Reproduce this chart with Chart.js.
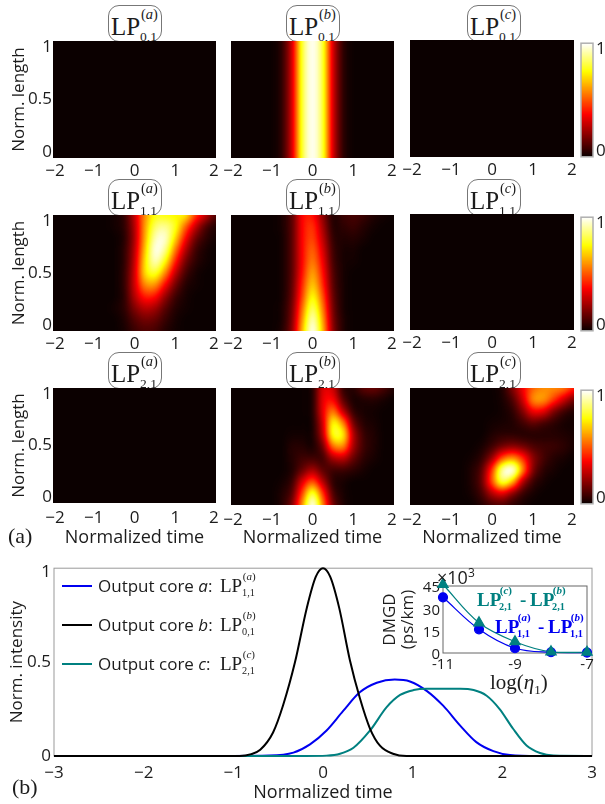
<!DOCTYPE html>
<html>
<head>
<meta charset="utf-8">
<title>LP modes</title>
<script src="https://cdn.jsdelivr.net/npm/chart.js@4/dist/chart.umd.min.js"></script>
<style>
  html, body { margin: 0; padding: 0; background: #fff; }
  #page { position: relative; width: 605px; height: 804px; overflow: hidden; color: #1c1c1c; font-family: "Open Sans", sans-serif; }
  #page canvas, .abs { position: absolute; }
  .abs { white-space: nowrap; line-height: 1; }
  .box { border: 1px solid #777; border-radius: 11px; background: #fff; box-sizing: border-box; }
  .lp { position: relative; display: inline-block; width: 2.05em; height: 1em; font-family: "Liberation Serif", serif; line-height: 1; }
  .lp .sup { position: absolute; left: 2.07em; top: -.5em; font-size: .58em; }
  .lp .sub { position: absolute; left: 2.15em; top: 1.2em; font-size: .54em; }
</style>
</head>
<body>
<div id="page"></div>
<script>
// ==========================================
// data
// ==========================================
// heat maps: intensity in %, rows from length 1 (top) down to 0, columns are heatTimes
const heatTimes = [-2, -1.75, -1.5, -1.25, -1, -0.75, -0.5, -0.25, 0, 0.25, 0.5, 0.75, 1, 1.25, 1.5, 1.75, 2];
const heatLengths = [1, 0.9, 0.8, 0.7, 0.6, 0.5, 0.4, 0.3, 0.2, 0.1, 0];

const darkRow = [0, 0, 0, 0, 0, 0, 0, 0, 0, 0, 0, 0, 0, 0, 0, 0, 0];
const gridDark = [darkRow, darkRow, darkRow, darkRow, darkRow, darkRow, darkRow, darkRow, darkRow, darkRow, darkRow];

const pulseRow = [0, 0, 0, 0, 0, 5, 31, 81, 100, 81, 31, 5, 0, 0, 0, 0, 0];
const gridB01 = [pulseRow, pulseRow, pulseRow, pulseRow, pulseRow, pulseRow, pulseRow, pulseRow, pulseRow, pulseRow, pulseRow];

const gridA11 = [
  [0, 0, 0, 0, 0, 0, 1, 6, 28, 58, 76, 76, 74, 72, 46, 28, 10],
  [0, 0, 0, 0, 0, 0, 1, 5, 25, 60, 85, 90, 78, 52, 28, 10, 3],
  [0, 0, 0, 0, 0, 0, 0, 4, 24, 62, 93, 96, 70, 38, 15, 5, 1],
  [0, 0, 0, 0, 0, 0, 0, 5, 26, 66, 98, 90, 56, 26, 8, 2, 0],
  [0, 0, 0, 0, 0, 0, 0, 5, 28, 70, 94, 76, 42, 16, 5, 1, 0],
  [0, 0, 0, 0, 0, 0, 0, 6, 30, 70, 80, 58, 28, 9, 2, 0, 0],
  [0, 0, 0, 0, 0, 0, 0, 6, 30, 58, 60, 38, 16, 4, 1, 0, 0],
  [0, 0, 0, 0, 0, 0, 0, 5, 26, 42, 40, 22, 8, 2, 0, 0, 0],
  [0, 0, 0, 0, 0, 0, 1, 5, 18, 27, 24, 12, 4, 1, 0, 0, 0],
  [0, 0, 0, 0, 0, 0, 0, 3, 11, 16, 14, 7, 2, 0, 0, 0, 0],
  [0, 0, 0, 0, 0, 0, 0, 2, 7, 10, 9, 4, 1, 0, 0, 0, 0]
];
const gridB11 = [
  [0, 0, 0, 0, 0, 2, 12, 38, 40, 20, 3, 7, 9, 7, 3, 1, 0],
  [0, 0, 0, 0, 0, 2, 12, 38, 45, 24, 4, 5, 7, 4, 1, 0, 0],
  [0, 0, 0, 0, 0, 1, 12, 38, 48, 28, 6, 3, 4, 2, 0, 0, 0],
  [0, 0, 0, 0, 0, 1, 12, 38, 52, 32, 8, 2, 2, 0, 0, 0, 0],
  [0, 0, 0, 0, 0, 1, 12, 38, 56, 36, 9, 2, 1, 0, 0, 0, 0],
  [0, 0, 0, 0, 0, 1, 12, 40, 62, 40, 11, 2, 0, 0, 0, 0, 0],
  [0, 0, 0, 0, 0, 1, 13, 44, 68, 44, 12, 2, 0, 0, 0, 0, 0],
  [0, 0, 0, 0, 0, 1, 14, 48, 76, 50, 14, 2, 0, 0, 0, 0, 0],
  [0, 0, 0, 0, 0, 2, 16, 54, 85, 56, 16, 2, 0, 0, 0, 0, 0],
  [0, 0, 0, 0, 0, 2, 18, 60, 94, 62, 18, 3, 0, 0, 0, 0, 0],
  [0, 0, 0, 0, 0, 3, 20, 65, 100, 66, 20, 3, 0, 0, 0, 0, 0]
];
const gridB21 = [
  [0, 0, 0, 0, 0, 0, 0, 0, 3, 32, 30, 6, 4, 12, 14, 9, 3],
  [0, 0, 0, 0, 0, 0, 0, 0, 3, 34, 38, 12, 2, 3, 4, 2, 0],
  [0, 0, 0, 0, 0, 0, 0, 0, 3, 34, 56, 28, 6, 2, 1, 0, 0],
  [0, 0, 0, 0, 0, 0, 0, 0, 2, 30, 76, 58, 16, 4, 2, 0, 0],
  [0, 0, 0, 0, 0, 0, 1, 1, 2, 26, 78, 74, 26, 7, 3, 0, 0],
  [0, 0, 0, 0, 0, 0, 4, 4, 2, 15, 54, 58, 24, 8, 3, 0, 0],
  [0, 0, 0, 0, 0, 0, 4, 8, 8, 8, 24, 28, 14, 5, 2, 0, 0],
  [0, 0, 0, 0, 0, 0, 3, 14, 24, 12, 8, 8, 5, 2, 0, 0, 0],
  [0, 0, 0, 0, 0, 1, 7, 32, 50, 26, 5, 2, 0, 0, 0, 0, 0],
  [0, 0, 0, 0, 0, 3, 12, 48, 82, 46, 10, 2, 0, 0, 0, 0, 0],
  [0, 0, 0, 0, 0, 4, 18, 60, 100, 58, 16, 3, 0, 0, 0, 0, 0]
];
const gridC21 = [
  [0, 0, 0, 0, 0, 0, 0, 0, 0, 3, 18, 36, 52, 58, 58, 55, 42],
  [0, 0, 0, 0, 0, 0, 0, 0, 0, 2, 10, 30, 58, 60, 46, 30, 16],
  [0, 0, 0, 0, 0, 0, 0, 0, 0, 1, 5, 18, 36, 34, 18, 8, 3],
  [0, 0, 0, 0, 0, 0, 0, 0, 1, 2, 3, 8, 13, 9, 5, 2, 1],
  [0, 0, 0, 0, 0, 0, 0, 0, 3, 5, 5, 4, 4, 4, 4, 3, 2],
  [0, 0, 0, 0, 0, 0, 0, 2, 8, 16, 20, 16, 10, 8, 7, 5, 2],
  [0, 0, 0, 0, 0, 0, 1, 6, 22, 50, 60, 44, 20, 9, 4, 2, 0],
  [0, 0, 0, 0, 0, 0, 3, 12, 46, 92, 100, 58, 18, 5, 2, 0, 0],
  [0, 0, 0, 0, 0, 0, 3, 14, 50, 84, 66, 26, 7, 2, 0, 0, 0],
  [0, 0, 0, 0, 0, 0, 2, 9, 26, 34, 20, 7, 2, 0, 0, 0, 0],
  [0, 0, 0, 0, 0, 0, 0, 4, 9, 10, 5, 2, 0, 0, 0, 0, 0]
];

const colorbarLengths = [1, 0.95, 0.9, 0.85, 0.8, 0.75, 0.7, 0.65, 0.6, 0.55, 0.5, 0.45, 0.4, 0.35, 0.3, 0.25, 0.2, 0.15, 0.1, 0.05, 0];
const colorbarLevels = [100, 95, 90, 85, 80, 75, 70, 65, 60, 55, 50, 45, 40, 35, 30, 25, 20, 15, 10, 5, 0];

// labels sit a little inside the panels in the original, so the ticks are not on the ends
const heatXTickAt = [-1.95, -1, 0, 1, 1.95];
const heatXTickLabels = ["−2", "−1", "0", "1", "2"];
const heatYTickAt = [0.05, 0.5, 0.95];
const heatYTickLabels = ["0", "0.5", "1"];
const colorbarTickAt = [0.05, 0.95];
const colorbarTickLabels = ["0", "1"];

// line plot (b)
const blueTimes = [-3, -1, -0.6, -0.33, -0.145, 0.04, 0.225, 0.41, 0.6, 0.8, 0.97, 1.156, 1.34, 1.53, 1.71, 1.9, 2.085, 2.4, 3];
const blueIntensity = [0, 0, 0.002, 0.018, 0.062, 0.136, 0.24, 0.339, 0.39, 0.407, 0.397, 0.347, 0.268, 0.162, 0.074, 0.026, 0.005, 0, 0];
const blackTimes = [-3, -0.93, -0.8, -0.7, -0.557, -0.445, -0.312, -0.18, -0.08, 0, 0.08, 0.18, 0.3, 0.41, 0.525, 0.635, 0.78, 0.93, 3];
const blackIntensity = [0, 0, 0.01, 0.033, 0.125, 0.27, 0.5, 0.79, 0.955, 1, 0.955, 0.79, 0.51, 0.31, 0.145, 0.055, 0.012, 0, 0];
const tealTimes = [-3, -0.2, 0.04, 0.19, 0.34, 0.525, 0.71, 0.86, 1.01, 1.156, 1.35, 1.53, 1.68, 1.825, 1.97, 2.12, 2.27, 2.42, 2.57, 3];
const tealIntensity = [0, 0, 0.002, 0.012, 0.044, 0.136, 0.26, 0.325, 0.351, 0.358, 0.358, 0.358, 0.351, 0.321, 0.25, 0.145, 0.056, 0.016, 0.002, 0];
const mainXTicks = [-3, -2, -1, 0, 1, 2, 3];
const mainXTickLabels = ["−3", "−2", "−1", "0", "1", "2", "3"];
const mainYTickAt = [0, 0.5, 0.98];
const mainYTickLabels = ["0", "0.5", "1"];

// inset
const insetEta = [-11, -10, -9, -8, -7];
const insetBlue = [37.4, 15.9, 3.2, 0.5, 0.3];
const insetTeal = [46, 20.3, 7.6, 0.8, 0.5];
const insetXTicks = [-11, -9, -7];
const insetYTicks = [0, 15, 30, 45];

// ==========================================
// colours and plugins
// ==========================================
const BLUE = "#0000f0";
const TEAL = "#008080";
const FONT = "'Open Sans', sans-serif";
Chart.defaults.font.family = FONT;
Chart.defaults.color = "#1c1c1c";
Chart.defaults.animation = false;

// same ramp as matlab "hot"
function hot(v) {
  const r = Math.min(1, 0.0417 + v / 0.375 * 0.9583);
  const g = Math.max(0, Math.min(1, (v - 0.375) / 0.375));
  const b = Math.max(0, Math.min(1, (v - 0.75) / 0.25));
  return [r * 255, g * 255, b * 255];
}

// paints the {x, y, v} cells of dataset 0 with the chart's scales, smoothed like the original image
const heatmapPlugin = {
  id: "heatmapPaint",
  beforeDatasetsDraw(chart) {
    const { ctx, chartArea: area, scales: { x, y } } = chart;
    const cells = chart.data.datasets[0].data;
    const xs = [...new Set(cells.map(c => c.x))];
    const ys = [...new Set(cells.map(c => c.y))];

    const small = document.createElement("canvas");
    small.width = xs.length;
    small.height = ys.length;
    const smallCtx = small.getContext("2d");
    const img = smallCtx.createImageData(xs.length, ys.length);
    cells.forEach((c, i) => {
      const g = c.v * 2.55;
      img.data.set([g, g, g, 255], i * 4);
    });
    smallCtx.putImageData(img, 0, 0);

    const dx = xs.length > 1 ? (xs[1] - xs[0]) / 2 : x.max - xs[0];
    const dy = (ys[0] - ys[1]) / 2;
    const left = x.getPixelForValue(xs[0] - dx);
    const right = x.getPixelForValue(xs[xs.length - 1] + dx);
    const top = y.getPixelForValue(ys[0] + dy);
    const bottom = y.getPixelForValue(ys[ys.length - 1] - dy);

    const w = Math.round(area.right - area.left);
    const h = Math.round(area.bottom - area.top);
    const big = document.createElement("canvas");
    big.width = w;
    big.height = h;
    const bigCtx = big.getContext("2d");
    bigCtx.imageSmoothingEnabled = true;
    bigCtx.imageSmoothingQuality = "high";
    bigCtx.drawImage(small, left - area.left, top - area.top, right - left, bottom - top);
    const out = bigCtx.getImageData(0, 0, w, h);
    for (let i = 0; i < out.data.length; i += 4) {
      const [r, g, b] = hot(out.data[i] / 255);
      out.data[i] = r;
      out.data[i + 1] = g;
      out.data[i + 2] = b;
      out.data[i + 3] = 255;
    }
    bigCtx.putImageData(out, 0, 0);
    ctx.drawImage(big, area.left, area.top);
  }
};

// gray box round the plot area
const framePlugin = {
  id: "frame",
  beforeDatasetsDraw(chart, args, opts) {
    const { ctx, chartArea: a } = chart;
    ctx.save();
    ctx.strokeStyle = opts.color;
    ctx.lineWidth = opts.width;
    ctx.strokeRect(a.left, a.top, a.right - a.left, a.bottom - a.top);
    ctx.restore();
  }
};

// ==========================================
// helpers
// ==========================================
const page = document.getElementById("page");

function addCanvas(left, top, width, height) {
  const c = document.createElement("canvas");
  c.width = width;
  c.height = height;
  c.style.left = left + "px";
  c.style.top = top + "px";
  c.style.width = width + "px";
  c.style.height = height + "px";
  page.appendChild(c);
  return c;
}

function addHtml(left, top, html, style) {
  const d = document.createElement("div");
  d.className = "abs";
  d.style.left = left + "px";
  d.style.top = top + "px";
  d.style.cssText += style || "";
  d.innerHTML = html;
  page.appendChild(d);
  return d;
}

function lp(core, sub) {
  return `<span class="lp">LP<span class="sup">(<i>${core}</i>)</span><span class="sub">${sub}</span></span>`;
}

// forces the ticks of a scale; afterFit below fixes the room it takes, so plot areas land where they should
function fixedTicks(values) {
  return axis => { axis.ticks = values.map(v => ({ value: v })); };
}

function heatCells(grid) {
  const cells = [];
  heatLengths.forEach((z, r) => heatTimes.forEach((t, c) => cells.push({ x: t, y: z, v: grid[r][c] })));
  return cells;
}

const tickFont = { size: 17 };
const TOP_PAD = 12;

function heatPanel(p, grid, opts) {
  const gutter = opts.yAxis ? p.x : 28;
  const under = opts.xTitle ? 549 - (p.y + p.h) : 28;
  const canvas = addCanvas(p.x - gutter, p.y - TOP_PAD, gutter + p.w + 16, TOP_PAD + p.h + under);
  new Chart(canvas, {
    type: "scatter",
    data: { datasets: [{ data: heatCells(grid), pointRadius: 0 }] },
    plugins: [heatmapPlugin],
    options: {
      responsive: false,
      events: [],
      layout: { padding: { top: TOP_PAD, right: 16 } },
      plugins: { legend: { display: false }, tooltip: { enabled: false } },
      scales: {
        x: {
          type: "linear", min: -2, max: 2,
          grid: { display: false, drawTicks: false }, border: { display: false },
          afterBuildTicks: fixedTicks(heatXTickAt),
          afterFit: s => { s.height = under; },
          ticks: { font: tickFont, padding: opts.xTitle ? 5 : 3, maxRotation: 0, autoSkip: false, callback: (v, i) => heatXTickLabels[i] },
          title: { display: !!opts.xTitle, text: "Normalized time", font: { size: 18 }, padding: 0 }
        },
        y: {
          type: "linear", min: 0, max: 1, display: !!opts.yAxis,
          grid: { display: false, drawTicks: false }, border: { display: false },
          afterBuildTicks: fixedTicks(heatYTickAt),
          afterFit: s => { s.width = gutter; },
          ticks: { font: tickFont, padding: 1, autoSkip: false, callback: (v, i) => heatYTickLabels[i] },
          title: { display: !!opts.yAxis, text: "Norm. length", font: tickFont, padding: { top: 9, bottom: 0 } }
        }
      }
    }
  });
}

function colorbar(p) {
  const canvas = addCanvas(p.x - 2, p.y - TOP_PAD, 605 - p.x + 2, p.h + TOP_PAD + 12);
  const cells = colorbarLengths.map((z, i) => ({ x: 0, y: z, v: colorbarLevels[i] }));
  new Chart(canvas, {
    type: "scatter",
    data: { datasets: [{ data: cells, pointRadius: 0 }] },
    plugins: [heatmapPlugin, framePlugin],
    options: {
      responsive: false,
      events: [],
      layout: { padding: { top: TOP_PAD, left: 2, bottom: 12 } },
      plugins: { legend: { display: false }, tooltip: { enabled: false }, frame: { color: "#b0b0b0", width: 1.5 } },
      scales: {
        x: { type: "linear", min: -1, max: 1, display: false },
        y: {
          type: "linear", position: "right", min: 0, max: 1,
          grid: { display: false, drawTicks: false }, border: { display: false },
          afterBuildTicks: fixedTicks(colorbarTickAt),
          afterFit: s => { s.width = 605 - p.x - p.w; },
          ticks: { font: tickFont, padding: 3, autoSkip: false, callback: (v, i) => colorbarTickLabels[i] }
        }
      }
    }
  });
}

// ==========================================
// panel (a): title boxes, heat maps, colour bars
// ==========================================
const colX = [53, 231, 410];
const colW = [163, 163, 164];
const rows = [
  { y: [41, 41, 40], h: [117, 117, 117], barY: 42, barH: 116, boxY: 5, sub: "0,1", grids: [gridDark, gridB01, gridDark] },
  { y: [215, 215, 214], h: [116, 116, 116], barY: 216, barH: 116, boxY: 179, sub: "1,1", grids: [gridA11, gridB11, gridDark] },
  { y: [388, 388, 388], h: [115, 117, 117], barY: 389, barH: 116, boxY: 352, sub: "2,1", grids: [gridDark, gridB21, gridC21] }
];
const coreNames = ["a", "b", "c"];
const boxX = [108, 286, 467];

rows.forEach((row, r) => {
  coreNames.forEach((core, c) => {
    const box = addHtml(boxX[c], row.boxY, "", "width:54px;height:37px;");
    box.classList.add("box");
    box.innerHTML = `<span class="abs" style="left:2px;top:7px;font-size:25px;">${lp(core, row.sub)}</span>`;
  });
  coreNames.forEach((core, c) => {
    heatPanel({ x: colX[c], y: row.y[c], w: colW[c], h: row.h[c] }, row.grids[c], { yAxis: c === 0, xTitle: r === 2 });
  });
  colorbar({ x: 581, y: row.barY, w: 12, h: row.barH });
});

addHtml(8, 525, "(a)", "font-family:'Liberation Serif',serif;font-size:22px;");

// ==========================================
// panel (b): line plot
// ==========================================
const pairs = (xs, ys) => xs.map((x, i) => ({ x, y: ys[i] }));
const mainCanvas = addCanvas(0, 555, 605, 249);
new Chart(mainCanvas, {
  type: "scatter",
  data: {
    datasets: [
      { data: pairs(blackTimes, blackIntensity), borderColor: "#000", showLine: true, pointRadius: 0, borderWidth: 2, cubicInterpolationMode: "monotone", clip: false },
      { data: pairs(tealTimes, tealIntensity), borderColor: TEAL, showLine: true, pointRadius: 0, borderWidth: 2, cubicInterpolationMode: "monotone", clip: false },
      { data: pairs(blueTimes, blueIntensity), borderColor: BLUE, showLine: true, pointRadius: 0, borderWidth: 2, cubicInterpolationMode: "monotone", clip: false }
    ]
  },
  plugins: [framePlugin],
  options: {
    responsive: false,
    events: [],
    layout: { padding: { top: 12, right: 13 } },
    plugins: { legend: { display: false }, tooltip: { enabled: false }, frame: { color: "#9a9a9a", width: 1 } },
    scales: {
      x: {
        type: "linear", min: -3, max: 3,
        grid: { display: false, drawTicks: false }, border: { display: false },
        afterBuildTicks: fixedTicks(mainXTicks),
        afterFit: s => { s.height = 48; },
        ticks: { font: tickFont, padding: 7, maxRotation: 0, autoSkip: false, callback: (v, i) => mainXTickLabels[i] },
        title: { display: true, text: "Normalized time", font: { size: 18 }, padding: 0 }
      },
      y: {
        type: "linear", min: 0, max: 1,
        grid: { display: false, drawTicks: false }, border: { display: false },
        afterBuildTicks: fixedTicks(mainYTickAt),
        afterFit: s => { s.width = 54; },
        ticks: { font: tickFont, padding: 3, autoSkip: false, callback: (v, i) => mainYTickLabels[i] },
        title: { display: true, text: "Norm. intensity", font: tickFont, padding: { top: 7, bottom: 0 } }
      }
    }
  }
});

// legend
const legendRows = [
  { color: BLUE, y: 586, name: "a", lp: lp("a", "1,1") },
  { color: "#000", y: 625, name: "b", lp: lp("b", "0,1") },
  { color: TEAL, y: 664, name: "c", lp: lp("c", "2,1") }
];
legendRows.forEach(l => {
  addHtml(62, l.y - 1, "", `width:30px;height:2px;background:${l.color};`);
  addHtml(98, l.y - 9, `Output core <i>${l.name}</i>:`, "font-size:17px;");
  addHtml(220, l.y - 10, l.lp, "font-size:19px;");
});
addHtml(12, 776, "(b)", "font-family:'Liberation Serif',serif;font-size:22px;");

// ==========================================
// inset
// ==========================================
const insetCanvas = addCanvas(375, 570, 230, 108);
new Chart(insetCanvas, {
  type: "scatter",
  data: {
    datasets: [
      { data: pairs(insetEta, insetTeal), borderColor: TEAL, backgroundColor: TEAL, showLine: true, borderWidth: 1.2, tension: 0.35, pointStyle: "triangle", pointRadius: 6, clip: false },
      { data: pairs(insetEta, insetBlue), borderColor: BLUE, backgroundColor: BLUE, showLine: true, borderWidth: 1.2, tension: 0.35, pointStyle: "circle", pointRadius: 4.5, clip: false }
    ]
  },
  plugins: [framePlugin],
  options: {
    responsive: false,
    events: [],
    layout: { padding: { top: 16, right: 18 } },
    plugins: { legend: { display: false }, tooltip: { enabled: false }, frame: { color: "#666", width: 1 } },
    scales: {
      x: {
        type: "linear", min: -11, max: -7,
        grid: { display: false, drawTicks: false }, border: { display: false },
        afterBuildTicks: fixedTicks(insetXTicks),
        afterFit: s => { s.height = 25; },
        ticks: { font: { size: 15 }, padding: 3, maxRotation: 0, autoSkip: false, callback: (v, i) => String(insetXTicks[i]) }
      },
      y: {
        type: "linear", min: 0, max: 45,
        grid: { display: false, drawTicks: false }, border: { display: false },
        afterBuildTicks: fixedTicks(insetYTicks),
        afterFit: s => { s.width = 68; },
        ticks: { font: { size: 15 }, padding: 3, labelOffset: 2, autoSkip: false, callback: (v, i) => String(insetYTicks[i]) },
        title: { display: true, text: ["DMGD", "(ps/km)"], font: { size: 17, lineHeight: 1.05 }, padding: { top: 6, bottom: 0 } }
      }
    }
  }
});

addHtml(437, 568, "×10<sup style='font-size:12px;line-height:0;'>3</sup>", "font-size:18px;");
addHtml(490, 672, "log(<i>η</i><sub style='font-size:13px;line-height:0;'>1</sub>)", "font-family:'Liberation Serif',serif;font-size:21px;");

function insetLabel(x, y, color, left, right) {
  const s = `color:${color};font-size:19px;font-weight:bold;font-family:'Liberation Serif',serif;`;
  addHtml(x, y - 9, left, s);
  addHtml(x + 43, y - 9, "-", s);
  addHtml(x + 53, y - 9, right, s);
}
insetLabel(477, 599, TEAL, lp("c", "2,1"), lp("b", "2,1"));
insetLabel(495, 626, BLUE, lp("a", "1,1"), lp("b", "1,1"));
</script>
</body>
</html>
